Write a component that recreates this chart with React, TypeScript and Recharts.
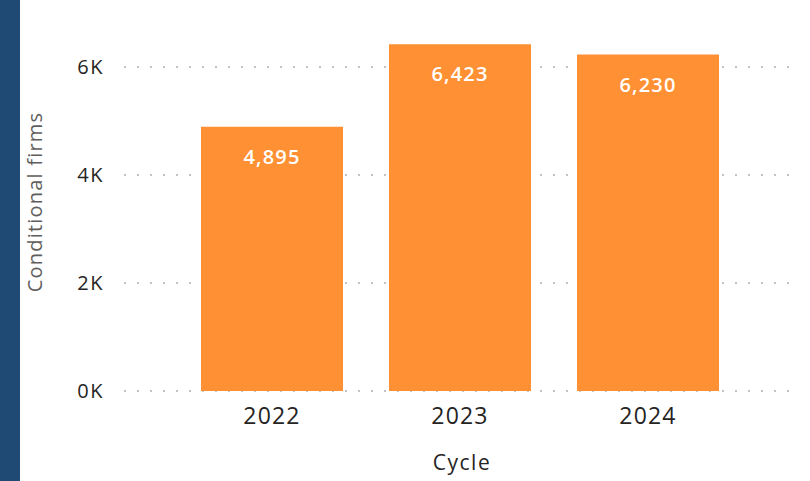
import React from 'react';
import { BarChart, Bar, XAxis, YAxis, CartesianGrid, LabelList } from 'recharts';

const cycles = ['2022', '2023', '2024'];
const conditionalFirms = [4895, 6423, 6230];
const yTicks = [0, 2000, 4000, 6000];

const data = cycles.map((cycle, i) => ({ cycle, firms: conditionalFirms[i] }));

const FONT = '"Segoe UI", "Open Sans", sans-serif';
const BAR_COLOR = '#FF9034';

export default function App() {
  return (
    <div
      style={{
        position: 'absolute',
        top: 0,
        left: 0,
        width: 810,
        height: 481,
        background: '#ffffff',
        fontFamily: FONT,
        overflow: 'hidden'
      }}
    >
      {/* dark side strip */}
      <div style={{ position: 'absolute', left: 0, top: 0, width: 20, height: 481, background: '#1E4A73' }} />

      <div style={{ position: 'absolute', left: 20, top: 0 }}>
        <BarChart
          width={790}
          height={481}
          data={data}
          margin={{ top: 13, right: 10, bottom: 0, left: 0 }}
          barCategoryGap={23}
        >
          <CartesianGrid
            vertical={false}
            horizontalValues={yTicks}
            stroke="#b0b0b0"
            strokeWidth={1.5}
            strokeDasharray="2 11"
          />
          <XAxis
            dataKey="cycle"
            height={90}
            axisLine={false}
            tickLine={false}
            tickMargin={11}
            padding={{ left: 54, right: 58 }}
            tick={{ fill: '#252423', fontSize: 23, fontFamily: FONT, letterSpacing: 1.2 }}
            label={{
              value: 'Cycle',
              position: 'insideBottom',
              offset: 11,
              style: { fill: '#252423', fontSize: 21, fontFamily: FONT, letterSpacing: 1.5 }
            }}
          />
          <YAxis
            width={104}
            domain={[0, 7000]}
            ticks={yTicks}
            axisLine={false}
            tickLine={false}
            tickMargin={14}
            tickFormatter={v => `${v / 1000}K`}
            tick={{ fill: '#252423', fontSize: 20, fontFamily: FONT, letterSpacing: 1.5 }}
            label={{
              value: 'Conditional firms',
              angle: -90,
              position: 'insideLeft',
              offset: 15,
              style: { textAnchor: 'middle', fill: '#605E5C', fontSize: 20, fontFamily: FONT, letterSpacing: 1.2 }
            }}
          />
          <Bar dataKey="firms" fill={BAR_COLOR} isAnimationActive={false}>
            <LabelList
              dataKey="firms"
              position="insideTop"
              offset={23}
              formatter={(v: number) => v.toLocaleString('en-US')}
              style={{ fill: '#ffffff', fontSize: 20, fontFamily: FONT, fontWeight: 600, letterSpacing: 1.2 }}
            />
          </Bar>
        </BarChart>
      </div>
    </div>
  );
}
